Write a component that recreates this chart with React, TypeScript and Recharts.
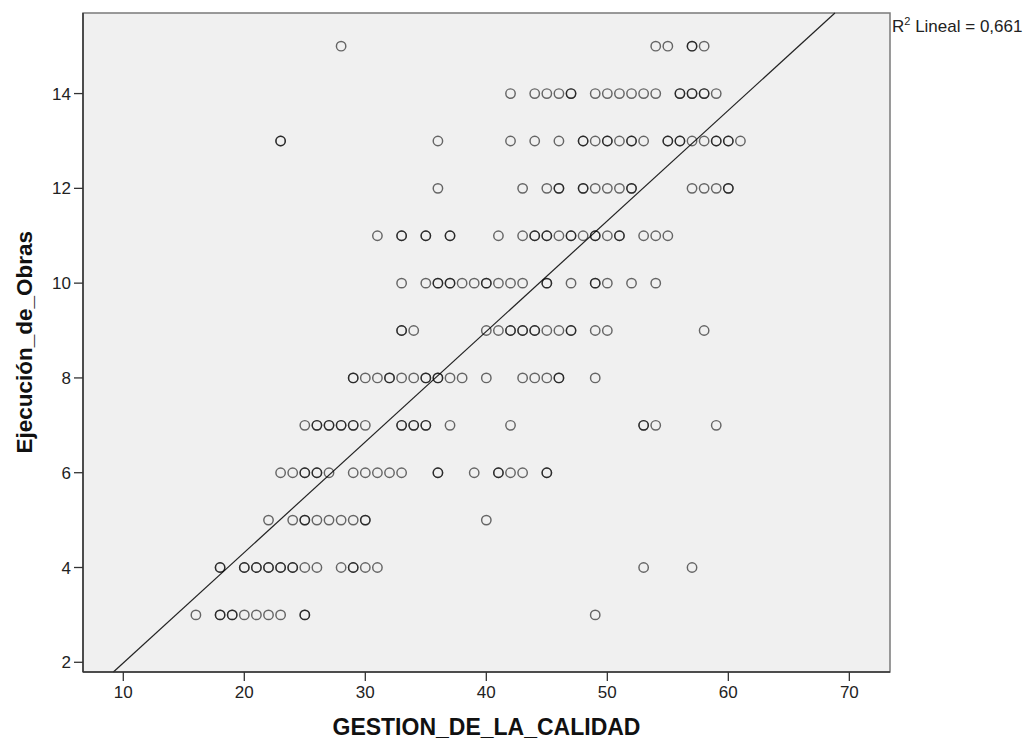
import React from 'react';
import { ScatterChart, Scatter, XAxis, YAxis, ReferenceLine, ReferenceArea } from 'recharts';

// Ejecución_de_Obras levels (rows) and GESTION_DE_LA_CALIDAD values observed on each row
const ejecucionLevels = [15, 14, 13, 12, 11, 10, 9, 8, 7, 6, 5, 4, 3];
const gestion15 = [28, 54, 55, 57, 57, 58];
const gestion14 = [42, 44, 45, 46, 47, 47, 49, 50, 51, 52, 53, 54, 56, 56, 57, 57, 58, 58, 59];
const gestion13 = [23, 23, 36, 42, 44, 46, 48, 48, 49, 50, 50, 51, 52, 52, 53, 55, 55, 56, 56, 57, 58, 59, 59, 60, 60, 61];
const gestion12 = [36, 43, 45, 46, 46, 48, 48, 49, 50, 51, 52, 52, 57, 58, 59, 60, 60];
const gestion11 = [31, 33, 33, 35, 35, 37, 37, 41, 43, 44, 44, 45, 45, 46, 47, 47, 48, 49, 49, 50, 51, 51, 53, 54, 55];
const gestion10 = [33, 35, 36, 36, 37, 37, 38, 39, 40, 40, 41, 42, 43, 45, 45, 47, 49, 49, 50, 52, 54];
const gestion9 = [33, 33, 34, 40, 41, 42, 42, 43, 43, 44, 44, 45, 46, 47, 47, 49, 50, 58];
const gestion8 = [29, 29, 30, 31, 32, 32, 33, 34, 35, 35, 36, 36, 37, 38, 40, 43, 44, 45, 46, 46, 49];
const gestion7 = [25, 26, 26, 27, 27, 28, 28, 29, 29, 30, 33, 33, 34, 34, 35, 35, 37, 42, 53, 53, 54, 59];
const gestion6 = [23, 24, 25, 25, 26, 26, 27, 29, 30, 31, 32, 33, 36, 36, 39, 41, 41, 42, 43, 45, 45];
const gestion5 = [22, 24, 25, 25, 26, 27, 28, 29, 30, 30, 40];
const gestion4 = [18, 18, 20, 20, 21, 21, 22, 22, 23, 23, 24, 24, 25, 26, 28, 29, 29, 30, 31, 53, 57];
const gestion3 = [16, 18, 18, 19, 19, 20, 21, 22, 23, 25, 25, 49];
const gestionRows = [gestion15, gestion14, gestion13, gestion12, gestion11, gestion10, gestion9, gestion8, gestion7, gestion6, gestion5, gestion4, gestion3];

const xTicks = [10, 20, 30, 40, 50, 60, 70];
const yTicks = [2, 4, 6, 8, 10, 12, 14];
const xDomain: [number, number] = [6.67, 73.36];
const yDomain: [number, number] = [1.795, 15.7];

const fitIntercept = -0.346;
const fitSlope = 0.2332;
const r2Text = '0,661';

const xTitle = 'GESTION_DE_LA_CALIDAD';
const yTitle = 'Ejecución_de_Obras';

const points = ejecucionLevels.flatMap((lvl, i) =>
  gestionRows[i].map((g) => ({ gestion: g, ejecucion: lvl }))
);

const fitX0 = (yDomain[0] - fitIntercept) / fitSlope;
const fitX1 = (yDomain[1] - fitIntercept) / fitSlope;

const FONT = '"Liberation Sans", Arial, sans-serif';
const W = 1024;
const H = 734;

const Ring = (props: any) => {
  const { cx, cy } = props;
  if (cx == null || cy == null) return null;
  return <circle cx={cx} cy={cy} r={4.7} fill="none" stroke="#000" strokeOpacity={0.58} strokeWidth={1.45} />;
};

export default function App() {
  return (
    <div style={{ position: 'relative', width: W, height: H }}>
      <ScatterChart width={W} height={H} margin={{ top: 5, right: 142, bottom: 0, left: 0 }}>
        <ReferenceArea
          x1={xDomain[0]}
          x2={xDomain[1]}
          y1={yDomain[0]}
          y2={yDomain[1]}
          fill="#f0f0f0"
          fillOpacity={1}
          stroke="#7a7a7a"
          strokeWidth={1.5}
          ifOverflow="visible"
        />
        <XAxis
          type="number"
          dataKey="gestion"
          domain={xDomain}
          ticks={xTicks}
          allowDataOverflow
          height={70}
          tickSize={9}
          tickMargin={5}
          axisLine={{ stroke: '#333', strokeWidth: 1.5 }}
          tickLine={{ stroke: '#333', strokeWidth: 1.3 }}
          tick={{ fill: '#222', fontSize: 17, fontFamily: FONT }}
        />
        <YAxis
          type="number"
          dataKey="ejecucion"
          domain={yDomain}
          ticks={yTicks}
          allowDataOverflow
          width={75}
          tickSize={9}
          tickMargin={3}
          axisLine={{ stroke: '#333', strokeWidth: 1.5 }}
          tickLine={{ stroke: '#333', strokeWidth: 1.3 }}
          tick={{ fill: '#222', fontSize: 17, fontFamily: FONT }}
        />
        <Scatter data={points} shape={Ring} isAnimationActive={false} />
        <ReferenceLine
          segment={[
            { x: fitX0, y: fitIntercept + fitSlope * fitX0 },
            { x: fitX1, y: fitIntercept + fitSlope * fitX1 },
          ]}
          stroke="#222"
          strokeWidth={1.2}
          ifOverflow="visible"
        />
      </ScatterChart>
      <svg width={W} height={H} style={{ position: 'absolute', left: 0, top: 0, pointerEvents: 'none' }}>
        <text x={478.5} y={727} textAnchor="middle" fontFamily={FONT} fontWeight="bold" fontSize={23} fill="#111">
          {xTitle}
        </text>
        <text
          x={23.7}
          y={334.3}
          textAnchor="middle"
          transform="rotate(-90, 23.7, 334.3)"
          fontFamily={FONT}
          fontWeight="bold"
          fontSize={22.5}
          fill="#111"
        >
          {yTitle}
        </text>
        <text x={884} y={23.7} fontFamily={FONT} fontSize={17} fill="#222">
          R
          <tspan dy={-7} fontSize={11}>2</tspan>
          <tspan dy={7}>{` Lineal = ${r2Text}`}</tspan>
        </text>
      </svg>
    </div>
  );
}
